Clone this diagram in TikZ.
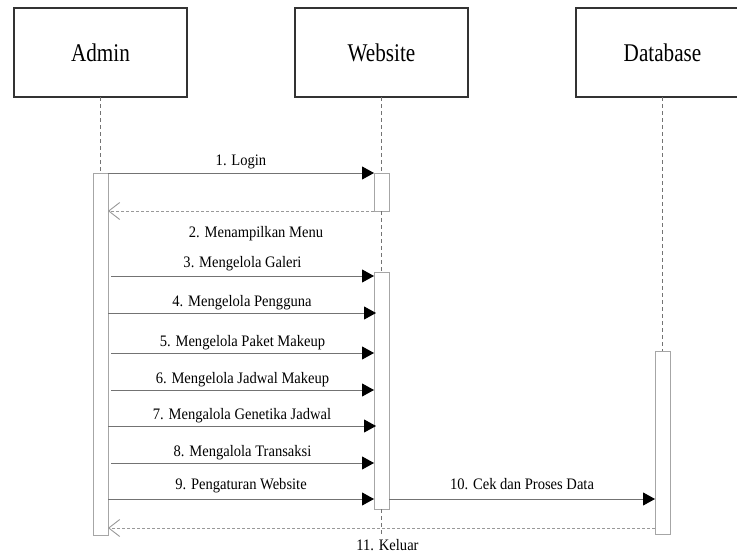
\documentclass[tikz,border=0pt]{standalone}
\usepackage{fontspec}
\setmainfont{Liberation Serif}[FakeStretch=0.91]
\newfontfamily\actorfont{Liberation Serif}[FakeStretch=0.83]
\usetikzlibrary{
  arrows.meta,
  positioning
}

\begin{document}
\begin{tikzpicture}[x=1pt,y=-1pt,node distance=108pt,
  actor/.style={draw=black!80,line width=1.4pt,outer sep=0pt,minimum width=173pt,minimum height=89pt,font=\actorfont\fontsize{25.5}{30}\selectfont},
  actbar/.style={draw=black!35,fill=white,line width=1pt,minimum width=15pt,inner sep=0pt,outer sep=0pt,anchor=north},
  lifeline/.style={draw=black!55,line width=0.6pt,dash pattern=on 4pt off 3pt},
  msg/.style={draw=black!55,line width=0.9pt,-{Triangle[length=12pt,width=13pt,color=black]}},
  ret/.style={draw=black!40,line width=0.9pt,dash pattern=on 3pt off 2pt,-{Straight Barb[length=11pt,width=17pt]}},
  lbl/.style={font=\fontsize{16}{19}\selectfont,text height=11pt,text depth=3.5pt,inner sep=2.5pt}]
\path[use as bounding box,clip] (0,0) rectangle (737,554);

\node[actor] (admin) at (100.5,52.5) {Admin};
\node[actor,right=of admin] (website) {Website};
\node[actor,right=of website] (database) {Database};

\node[actbar,minimum height=362pt] (abar) at (admin.south |- 0,173) {};
\node[actbar,minimum height=38pt] (wbar1) at (website.south |- 0,173) {};
\node[actbar,minimum height=237pt] (wbar2) at (website.south |- 0,272) {};
\node[actbar,minimum height=183pt] (dbar) at (database.south |- 0,351) {};
\coordinate (wend) at (website.south |- 0,536);

\draw[lifeline] (admin.south) -- (abar.north);
\draw[lifeline] (website.south) -- (wbar1.north);
\draw[lifeline] (wbar1.south) -- (wbar2.north);
\draw[lifeline] (wbar2.south) -- (wend);
\draw[lifeline] (database.south) -- (dbar.north);

\draw[msg] (abar.east |- 0,173) -- node[lbl,above=1.5pt] {1. Login} (wbar1.west |- 0,173);
\draw[ret] (wbar1.west |- 0,211) -- node[lbl,below=13pt,xshift=15pt] {2. Menampilkan Menu} (abar.east |- 0,211);
\draw[msg] ([xshift=3pt]abar.east |- 0,276) -- node[lbl,above=2.5pt] {3. Mengelola Galeri} (wbar2.west |- 0,276);
\draw[msg] (abar.east |- 0,313) -- node[lbl,above=0.5pt] {4. Mengelola Pengguna} ([xshift=2pt]wbar2.west |- 0,313);
\draw[msg] ([xshift=3pt]abar.east |- 0,353) -- node[lbl,above=0pt] {5. Mengelola Paket Makeup} (wbar2.west |- 0,353);
\draw[msg] ([xshift=3pt]abar.east |- 0,390) -- node[lbl,above=0pt] {6. Mengelola Jadwal Makeup} (wbar2.west |- 0,390);
\draw[msg] (abar.east |- 0,426) -- node[lbl,above=0pt] {7. Mengalola Genetika Jadwal} ([xshift=2pt]wbar2.west |- 0,426);
\draw[msg] ([xshift=3pt]abar.east |- 0,463) -- node[lbl,above=0pt] {8. Mengalola Transaksi} (wbar2.west |- 0,463);
\draw[msg] (abar.east |- 0,499) -- node[lbl,above=3.5pt] {9. Pengaturan Website} (wbar2.west |- 0,499);
\draw[msg] (wbar2.east |- 0,499) -- node[lbl,above=3.5pt] {10. Cek dan Proses Data} (dbar.west |- 0,499);
\draw[ret] (dbar.west |- 0,528) -- node[lbl,below=9pt,xshift=6pt] {11. Keluar} (abar.east |- 0,528);
\end{tikzpicture}
\end{document}
